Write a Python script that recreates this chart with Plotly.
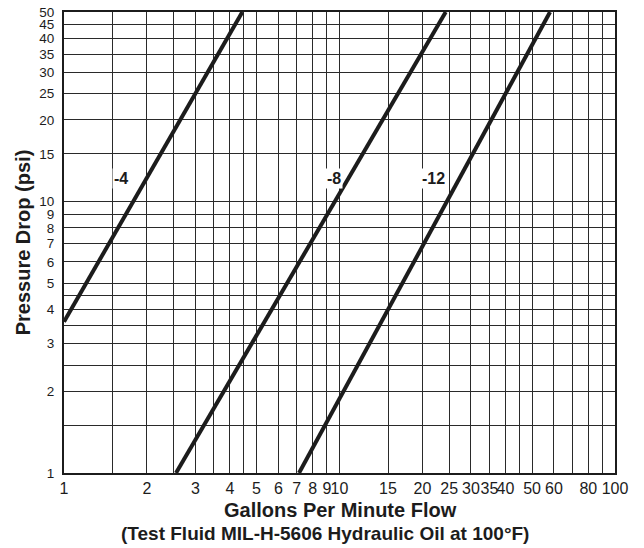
import numpy as np
import plotly.graph_objects as go

# ---- data ----
series_names = ["-4", "-8", "-12"]
flow_4 = [1.0, 4.44]
drop_4 = [3.61, 50.0]
flow_8 = [2.55, 24.3]
drop_8 = [1.0, 50.0]
flow_12 = [7.13, 58.1]
drop_12 = [1.0, 50.0]

label_flow = [1.61, 9.55, 22.0]
label_drop = [12.2, 12.2, 12.2]

x_grid = [1, 1.5, 2, 2.5, 3, 3.5, 4, 4.5, 5, 6, 7, 8, 9, 10, 15, 20, 25, 30,
          35, 40, 45, 50, 60, 70, 80, 90, 100]
x_text = ["1", "", "2", "", "3", "", "4", "", "5", "6", "7", "8", "9", "10", "15",
          "20", "25", "30", "35", "40", "", "50", "60", "", "80", "", "100"]
y_grid = [1, 1.5, 2, 2.5, 3, 3.5, 4, 4.5, 5, 6, 7, 8, 9, 10, 15, 20, 25, 30,
          35, 40, 45, 50]
y_text = ["1", "", "2", "", "3", "", "4", "", "5", "6", "7", "8", "9", "10", "15",
          "20", "25", "30", "35", "40", "45", "50"]

FONT = "Liberation Sans, Arial, Helvetica, sans-serif"
INK = "#1c1c1c"

fig = go.Figure()
for fx, dy, name in [(flow_4, drop_4, "-4"), (flow_8, drop_8, "-8"), (flow_12, drop_12, "-12")]:
    fig.add_trace(go.Scatter(x=fx, y=dy, mode="lines", name=name,
                             line=dict(color=INK, width=4), showlegend=False,
                             cliponaxis=True))

for name, lx, ly in zip(series_names, label_flow, label_drop):
    fig.add_annotation(x=np.log10(lx), y=np.log10(ly), xref="x", yref="y",
                       text="<b>" + name + "</b>", showarrow=False,
                       font=dict(family=FONT, size=16, color=INK),
                       bgcolor="white", borderpad=1)

fig.add_annotation(x=0.502, y=-0.08, xref="paper", yref="paper",
                   text="<b>Gallons Per Minute Flow</b>", showarrow=False,
                   xanchor="center", yanchor="middle",
                   font=dict(family=FONT, size=20, color=INK))
fig.add_annotation(x=0.474, y=-0.132, xref="paper", yref="paper",
                   text="<b>(Test Fluid MIL-H-5606 Hydraulic Oil at 100°F)</b>",
                   showarrow=False, xanchor="center", yanchor="middle",
                   font=dict(family=FONT, size=19, color=INK))

fig.update_xaxes(type="log", range=[0, 2], tickmode="array", tickvals=x_grid,
                 ticktext=x_text, showgrid=True, gridcolor="#2a2a2a", gridwidth=1.2,
                 showline=True, linecolor=INK, linewidth=2, mirror=True,
                 ticks="", ticklabelstandoff=0, zeroline=False, tickangle=0,
                 automargin=False, ticklabeloverflow="allow",
                 tickfont=dict(family=FONT, size=16, color=INK))
fig.update_yaxes(type="log", range=[0, np.log10(50)], tickmode="array",
                 tickvals=y_grid, ticktext=y_text, showgrid=True,
                 gridcolor="#2a2a2a", gridwidth=1.2, showline=True,
                 linecolor=INK, linewidth=2, mirror=True, ticks="",
                 ticklabelstandoff=5, zeroline=False, automargin=False,
                 ticklabeloverflow="allow",
                 title=dict(text="<b>Pressure Drop (psi)</b>", standoff=3,
                            font=dict(family=FONT, size=20, color=INK)),
                 tickfont=dict(family=FONT, size=13.5, color=INK))

fig.update_layout(width=644, height=548, margin=dict(l=64, r=29, t=12, b=75),
                  paper_bgcolor="white", plot_bgcolor="white",
                  font=dict(family=FONT, color=INK))

# remove the browser's default 8px body margin so the figure sits at (0, 0)
fig.write_html("out.html", config={"displayModeBar": False},
               post_script="document.body.style.margin='0px';")
